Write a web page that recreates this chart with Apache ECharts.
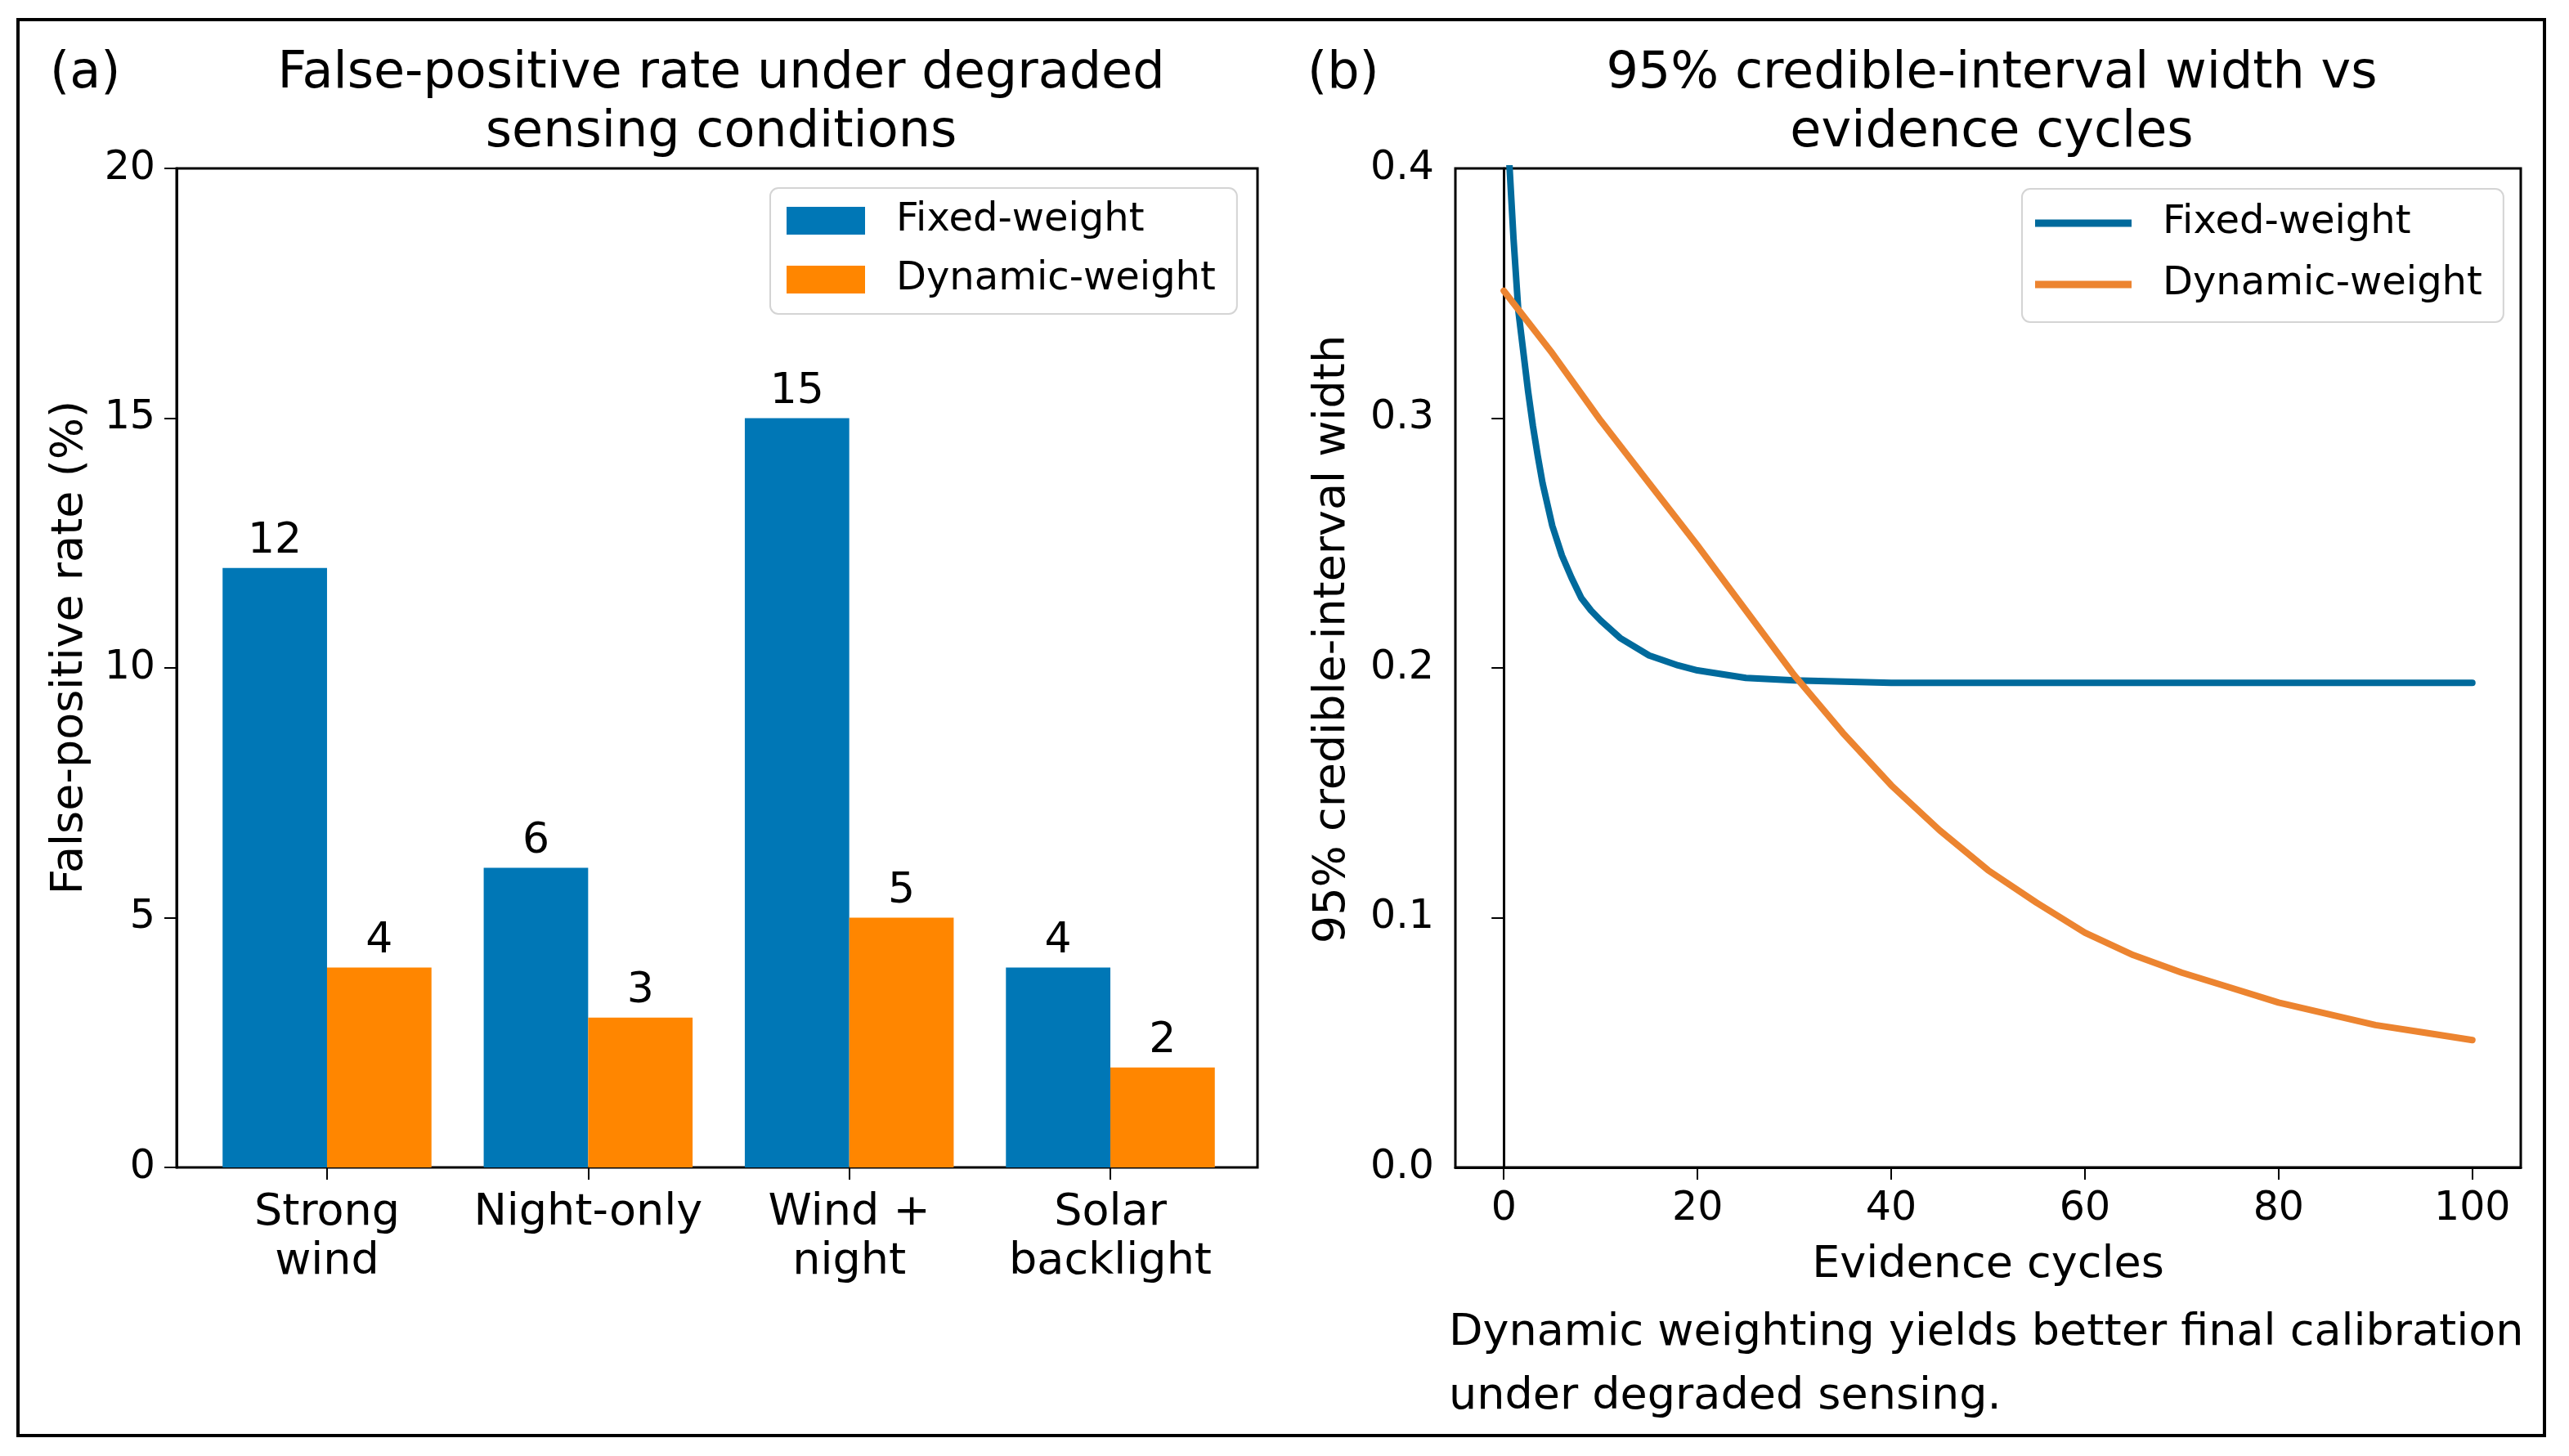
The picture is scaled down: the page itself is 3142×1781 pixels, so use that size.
<!DOCTYPE html>
<html>
<head>
<meta charset="utf-8">
<script src="https://cdn.jsdelivr.net/npm/echarts@6/dist/echarts.min.js"></script>
<style>
  html, body { margin: 0; padding: 0; background: #fff; }
  #main { width: 3142px; height: 1781px; }
</style>
</head>
<body>
<div id="main"></div>
<script>
// panel (a): false-positive rate per condition
var conditions = ['Strong\nwind', 'Night-only', 'Wind +\nnight', 'Solar\nbacklight'];
var fixedRate = [12, 6, 15, 4];
var dynamicRate = [4, 3, 5, 2];

// panel (b): credible-interval width vs evidence cycles
var fixedCycles = [0, 0.6, 1, 1.5, 2, 2.5, 3, 3.5, 4, 5, 6, 7, 8, 9, 10, 12, 15, 18, 20, 25, 30, 40, 50, 60, 70, 80, 90, 100];
var fixedWidth = [0.445, 0.400, 0.372, 0.343, 0.327, 0.311, 0.297, 0.285, 0.274, 0.257, 0.245, 0.236, 0.228, 0.223, 0.219, 0.212, 0.205, 0.201, 0.199, 0.196, 0.195, 0.194, 0.194, 0.194, 0.194, 0.194, 0.194, 0.194];
var dynCycles = [0, 5, 10, 15, 20, 25, 30, 35, 40, 45, 50, 55, 60, 65, 70, 75, 80, 85, 90, 95, 100];
var dynWidth = [0.351, 0.326, 0.299, 0.274, 0.249, 0.223, 0.197, 0.174, 0.153, 0.135, 0.119, 0.106, 0.094, 0.085, 0.078, 0.072, 0.066, 0.0615, 0.057, 0.054, 0.051];
var cycleTicks = [0, 20, 40, 60, 80, 100];

var BAR_BLUE = '#0077B6';
var BAR_ORANGE = '#FF8600';
var LINE_BLUE = '#006A9C';
var LINE_ORANGE = '#EC8430';
var FONT = 'DejaVu Sans';

function pairs(xs, ys) {
    return xs.map(function (x, i) { return [x, ys[i]]; });
}

var chart = echarts.init(document.getElementById('main'));

var frameAxis = {
    axisLine: { show: true, lineStyle: { color: '#000', width: 3 } },
    axisTick: { show: true, length: 15, lineStyle: { color: '#000', width: 2 } },
    axisLabel: { color: '#000', fontSize: 49, fontFamily: FONT, lineHeight: 58 },
    splitLine: { show: false }
};

var legendBase = {
    orient: 'vertical',
    icon: 'rect',
    backgroundColor: 'rgba(255,255,255,0.85)',
    borderColor: '#d4d4d4',
    borderWidth: 2,
    borderRadius: 10,
    selectedMode: false,
    textStyle: { fontSize: 48, fontFamily: FONT, color: '#000', lineHeight: 56, padding: [0, 0, 0, 33] }
};

option = {
    backgroundColor: '#fff',
    animation: false,
    textStyle: { fontFamily: FONT },
    title: [
        { text: '(a)', left: 56, top: 50, textStyle: { fontSize: 62, fontWeight: 'normal', color: '#000', lineHeight: 72 } },
        { text: 'False-positive rate under degraded\nsensing conditions', left: 877, top: 50, textAlign: 'center',
          textStyle: { fontSize: 62, fontWeight: 'normal', color: '#000', lineHeight: 72 } },
        { text: '(b)', left: 1594, top: 50, textStyle: { fontSize: 62, fontWeight: 'normal', color: '#000', lineHeight: 72 } },
        { text: '95% credible-interval width vs\nevidence cycles', left: 2431, top: 50, textAlign: 'center',
          textStyle: { fontSize: 62, fontWeight: 'normal', color: '#000', lineHeight: 72 } }
    ],
    legend: [
        Object.assign({}, legendBase, {
            left: 942, top: 230, itemWidth: 96, itemHeight: 34, itemGap: 16,
            padding: [12, 26, 14, 20],
            data: [{ name: 'Fixed-weight', itemStyle: { color: BAR_BLUE } }, { name: 'Dynamic-weight', itemStyle: { color: BAR_ORANGE } }]
        }),
        Object.assign({}, legendBase, {
            left: 2473, top: 231, itemWidth: 118, itemHeight: 9, itemGap: 19,
            padding: [14, 26, 18, 16],
            data: [{ name: 'Fixed-weight', itemStyle: { color: LINE_BLUE } }, { name: 'Dynamic-weight', itemStyle: { color: LINE_ORANGE } }]
        })
    ],
    grid: [
        { left: 216, top: 206, width: 1322, height: 1222, show: true, borderColor: '#000', borderWidth: 3, backgroundColor: 'transparent' },
        { left: 240.3, top: 206, width: 1277.4, height: 1222 },
        { left: 1780, top: 206, width: 1303, height: 1222, show: true, borderColor: '#000', borderWidth: 3, backgroundColor: 'transparent' }
    ],
    xAxis: [
        { gridIndex: 0, type: 'value', min: 0, max: 1, show: false },
        {
            gridIndex: 1, type: 'category', data: conditions,
            axisLine: { show: false },
            axisTick: { show: true, alignWithLabel: true, length: 15, lineStyle: { color: '#000', width: 2 } },
            axisLabel: { color: '#000', fontSize: 54, fontFamily: FONT, lineHeight: 60, margin: 26, interval: 0 },
            splitLine: { show: false }
        },
        Object.assign({}, frameAxis, {
            gridIndex: 2, type: 'value', min: -5, max: 105,
            axisTick: { show: true, length: 15, customValues: cycleTicks, lineStyle: { color: '#000', width: 2 } },
            axisLabel: { color: '#000', fontSize: 49, fontFamily: FONT, lineHeight: 58, margin: 22, customValues: cycleTicks },
            name: 'Evidence cycles', nameLocation: 'middle', nameGap: 90,
            nameTextStyle: { fontSize: 54, color: '#000', fontFamily: FONT, lineHeight: 60 }
        })
    ],
    yAxis: [
        Object.assign({}, frameAxis, {
            gridIndex: 0, type: 'value', min: 0, max: 20, interval: 5,
            axisLabel: { color: '#000', fontSize: 49, fontFamily: FONT, margin: 26 },
            name: 'False-positive rate (%)', nameLocation: 'middle', nameGap: 100, nameRotate: 90,
            nameTextStyle: { fontSize: 54, color: '#000', fontFamily: FONT, lineHeight: 60, padding: [0, 0, 0, 50] }
        }),
        { gridIndex: 1, type: 'value', min: 0, max: 20, show: false },
        Object.assign({}, frameAxis, {
            gridIndex: 2, type: 'value', min: 0, max: 0.4, interval: 0.1,
            axisLabel: { color: '#000', fontSize: 49, fontFamily: FONT, margin: 26,
                formatter: function (v) { return v.toFixed(1); } },
            name: '95% credible-interval width', nameLocation: 'middle', nameGap: 120, nameRotate: 90,
            nameTextStyle: { fontSize: 54, color: '#000', fontFamily: FONT, lineHeight: 60, padding: [0, 0, 0, 70] }
        })
    ],
    series: [
        {
            name: 'Fixed-weight', type: 'bar', xAxisIndex: 1, yAxisIndex: 1,
            data: fixedRate, barGap: '0%', barCategoryGap: '20%',
            itemStyle: { color: BAR_BLUE },
            label: { show: true, position: 'top', distance: 6, fontSize: 52, color: '#000', fontFamily: FONT }
        },
        {
            name: 'Dynamic-weight', type: 'bar', xAxisIndex: 1, yAxisIndex: 1,
            data: dynamicRate, barGap: '0%', barCategoryGap: '20%',
            itemStyle: { color: BAR_ORANGE },
            label: { show: true, position: 'top', distance: 6, fontSize: 52, color: '#000', fontFamily: FONT }
        },
        {
            name: 'Fixed-weight', type: 'line', xAxisIndex: 2, yAxisIndex: 2,
            data: pairs(fixedCycles, fixedWidth),
            showSymbol: false, smooth: false, clip: true,
            lineStyle: { color: LINE_BLUE, width: 8, cap: 'round', join: 'round' }, itemStyle: { color: LINE_BLUE }
        },
        {
            name: 'Dynamic-weight', type: 'line', xAxisIndex: 2, yAxisIndex: 2,
            data: pairs(dynCycles, dynWidth),
            showSymbol: false, smooth: false, clip: true,
            lineStyle: { color: LINE_ORANGE, width: 8, cap: 'round', join: 'round' }, itemStyle: { color: LINE_ORANGE }
        }
    ],
    graphic: [
        { type: 'rect', shape: { x: 22, y: 24, width: 3090, height: 1732 }, style: { fill: 'none', stroke: '#000', lineWidth: 4 }, z: 100 },
        { type: 'text', left: 1772, top: 1592,
          style: { text: 'Dynamic weighting yields better final calibration\nunder degraded sensing.', fontSize: 54, fontFamily: FONT, fill: '#000', lineHeight: 78 } }
    ]
};

chart.setOption(option);
</script>
</body>
</html>
